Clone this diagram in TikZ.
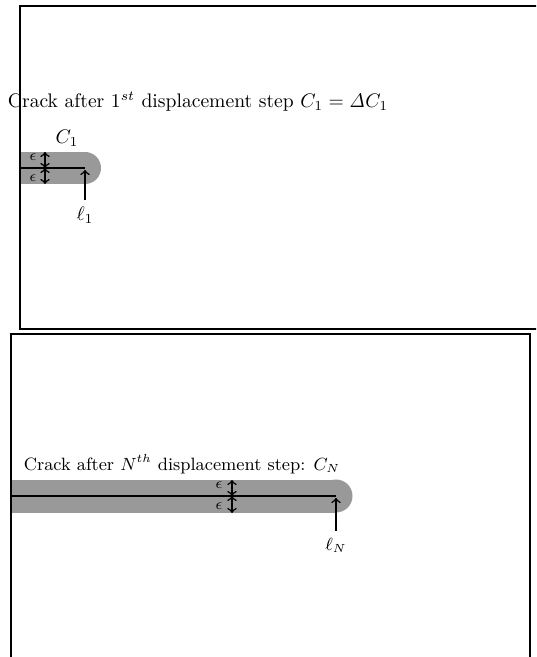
\documentclass[tikz,border=0pt]{standalone}
\usetikzlibrary{arrows.meta}
\begin{document}
\begin{tikzpicture}[x=0.51pt, y=-0.51pt]
    % Styles
    \tikzstyle{frame} = [draw, line width=0.8pt]
    \tikzstyle{band} = [fill=black!40]
    \tikzstyle{crack} = [line width=0.8pt]
    \tikzstyle{arrow} = [line width=0.8pt, ->, >=to, shorten >=1pt]
    \tikzstyle{gap} = [line width=0.8pt, <->, >=to]
    \tikzstyle{epslabel} = [inner sep=0pt, font=\footnotesize]
    \tikzstyle{small} = [font=\fontsize{9.1}{11}\selectfont]

    \clip (0,0) rectangle (536,657);

    % Coordinates
    \coordinate (end1) at (20,168);
    \coordinate (tip1) at (85,168);
    \coordinate (e1) at (45,168);
    \coordinate (e1up) at (45,152);
    \coordinate (e1dn) at (45,184);
    \coordinate (endN) at (11,496);
    \coordinate (tipN) at (336,496);
    \coordinate (eN) at (232,496);
    \coordinate (eNup) at (232,480);
    \coordinate (eNdn) at (232,513);

    % Bands
    \fill [band] (20,152) rectangle (tip1 |- e1dn);
    \fill [band] (tip1) circle [radius=16];
    \fill [band] (11,480) rectangle (tipN |- eNdn);
    \fill [band] (tipN) circle [radius=16.5];

    % Frames
    \draw [frame] (20,6) rectangle (560,329);
    \draw [frame] (11,334) rectangle (530,680);

    % Nodes
    \node (title1) at (198,102) {Crack after $1^{st}$ displacement step $C_1 = \mathit{\Delta} C_1$};
    \node (c1) at (67,138) {$C_1$};
    \node (l1) at (85,215) {$\ell_1$};
    \node [epslabel] (eps1a) at (33,157) {$\epsilon$};
    \node [epslabel] (eps1b) at (33,178) {$\epsilon$};
    \node [small] (titleN) at (182,464) {Crack after $N^{th}$ displacement step: $C_N$};
    \node [small] (lN) at (336,545) {$\ell_N$};
    \node [epslabel] (epsNa) at (219,485) {$\epsilon$};
    \node [epslabel] (epsNb) at (219,506) {$\epsilon$};

    % Cracks
    \draw [crack] (end1) -- (tip1);
    \draw [crack] (endN) -- (tipN);

    % Arrows
    \draw [arrow] (l1) -- (tip1);
    \draw [arrow] (lN) -- (tipN);
    \draw [gap] (e1) -- (e1up);
    \draw [gap] (e1) -- (e1dn);
    \draw [gap] (eN) -- (eNup);
    \draw [gap] (eN) -- (eNdn);
\end{tikzpicture}
\end{document}
